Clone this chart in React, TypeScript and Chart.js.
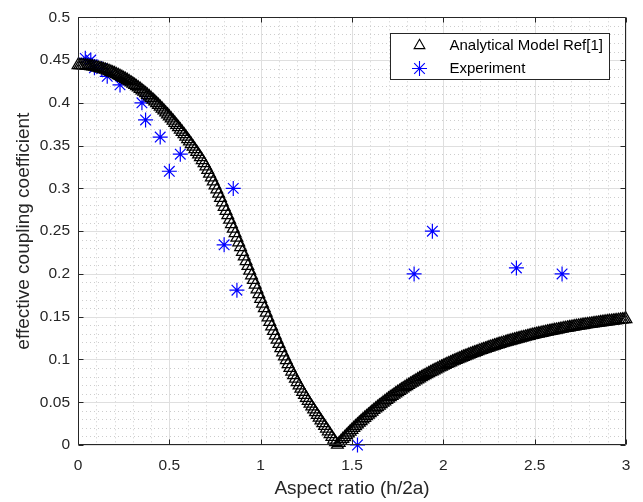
import React, { useEffect, useRef } from 'react';
import { Chart, registerables } from 'chart.js';
import { drawPoint } from 'chart.js/helpers';

Chart.register(...registerables);

const xTitle = 'Aspect ratio (h/2a)';
const yTitle = 'effective coupling coefficient';
const legendLabels = ['Analytical Model Ref[1]', 'Experiment'];

const xTickValues = [0, 0.5, 1, 1.5, 2, 2.5, 3];
const yTickValues = [0, 0.05, 0.1, 0.15, 0.2, 0.25, 0.3, 0.35, 0.4, 0.45, 0.5];

const modelX = [
  0, 0.01, 0.02, 0.03, 0.04, 0.05, 0.06, 0.07, 0.08, 0.09,
  0.1, 0.11, 0.12, 0.13, 0.14, 0.15, 0.16, 0.17, 0.18, 0.19,
  0.2, 0.21, 0.22, 0.23, 0.24, 0.25, 0.26, 0.27, 0.28, 0.29,
  0.3, 0.31, 0.32, 0.33, 0.34, 0.35, 0.36, 0.37, 0.38, 0.39,
  0.4, 0.41, 0.42, 0.43, 0.44, 0.45, 0.46, 0.47, 0.48, 0.49,
  0.5, 0.51, 0.52, 0.53, 0.54, 0.55, 0.56, 0.57, 0.58, 0.59,
  0.6, 0.61, 0.62, 0.63, 0.64, 0.65, 0.66, 0.67, 0.68, 0.69,
  0.7, 0.71, 0.72, 0.73, 0.74, 0.75, 0.76, 0.77, 0.78, 0.79,
  0.8, 0.81, 0.82, 0.83, 0.84, 0.85, 0.86, 0.87, 0.88, 0.89,
  0.9, 0.91, 0.92, 0.93, 0.94, 0.95, 0.96, 0.97, 0.98, 0.99,
  1.0, 1.01, 1.02, 1.03, 1.04, 1.05, 1.06, 1.07, 1.08, 1.09,
  1.1, 1.11, 1.12, 1.13, 1.14, 1.15, 1.16, 1.17, 1.18, 1.19,
  1.2, 1.21, 1.22, 1.23, 1.24, 1.25, 1.26, 1.27, 1.28, 1.29,
  1.3, 1.31, 1.32, 1.33, 1.34, 1.35, 1.36, 1.37, 1.38, 1.39,
  1.4, 1.41, 1.42, 1.43, 1.44, 1.45, 1.46, 1.47, 1.48, 1.49,
  1.5, 1.51, 1.52, 1.53, 1.54, 1.55, 1.56, 1.57, 1.58, 1.59,
  1.6, 1.61, 1.62, 1.63, 1.64, 1.65, 1.66, 1.67, 1.68, 1.69,
  1.7, 1.71, 1.72, 1.73, 1.74, 1.75, 1.76, 1.77, 1.78, 1.79,
  1.8, 1.81, 1.82, 1.83, 1.84, 1.85, 1.86, 1.87, 1.88, 1.89,
  1.9, 1.91, 1.92, 1.93, 1.94, 1.95, 1.96, 1.97, 1.98, 1.99,
  2.0, 2.01, 2.02, 2.03, 2.04, 2.05, 2.06, 2.07, 2.08, 2.09,
  2.1, 2.11, 2.12, 2.13, 2.14, 2.15, 2.16, 2.17, 2.18, 2.19,
  2.2, 2.21, 2.22, 2.23, 2.24, 2.25, 2.26, 2.27, 2.28, 2.29,
  2.3, 2.31, 2.32, 2.33, 2.34, 2.35, 2.36, 2.37, 2.38, 2.39,
  2.4, 2.41, 2.42, 2.43, 2.44, 2.45, 2.46, 2.47, 2.48, 2.49,
  2.5, 2.51, 2.52, 2.53, 2.54, 2.55, 2.56, 2.57, 2.58, 2.59,
  2.6, 2.61, 2.62, 2.63, 2.64, 2.65, 2.66, 2.67, 2.68, 2.69,
  2.7, 2.71, 2.72, 2.73, 2.74, 2.75, 2.76, 2.77, 2.78, 2.79,
  2.8, 2.81, 2.82, 2.83, 2.84, 2.85, 2.86, 2.87, 2.88, 2.89,
  2.9, 2.91, 2.92, 2.93, 2.94, 2.95, 2.96, 2.97, 2.98, 2.99,
  3.0,
];

const modelY = [
  0.4440, 0.4440, 0.4439, 0.4438, 0.4436, 0.4434, 0.4431, 0.4428, 0.4425, 0.4421,
  0.4416, 0.4411, 0.4405, 0.4399, 0.4393, 0.4386, 0.4379, 0.4371, 0.4362, 0.4353,
  0.4344, 0.4334, 0.4324, 0.4313, 0.4302, 0.4290, 0.4278, 0.4265, 0.4252, 0.4238,
  0.4224, 0.4209, 0.4194, 0.4179, 0.4163, 0.4146, 0.4129, 0.4111, 0.4093, 0.4075,
  0.4056, 0.4037, 0.4017, 0.3996, 0.3975, 0.3954, 0.3932, 0.3910, 0.3887, 0.3864,
  0.3840, 0.3816, 0.3791, 0.3766, 0.3740, 0.3714, 0.3687, 0.3660, 0.3633, 0.3605,
  0.3576, 0.3547, 0.3517, 0.3487, 0.3457, 0.3426, 0.3395, 0.3363, 0.3330, 0.3294,
  0.3256, 0.3215, 0.3172, 0.3127, 0.3081, 0.3034, 0.2986, 0.2937, 0.2887, 0.2836,
  0.2784, 0.2735, 0.2685, 0.2634, 0.2582, 0.2529, 0.2476, 0.2422, 0.2368, 0.2313,
  0.2258, 0.2203, 0.2148, 0.2093, 0.2038, 0.1983, 0.1928, 0.1873, 0.1818, 0.1763,
  0.1708, 0.1653, 0.1599, 0.1545, 0.1491, 0.1438, 0.1385, 0.1333, 0.1281, 0.1230,
  0.1180, 0.1131, 0.1083, 0.1036, 0.0990, 0.0945, 0.0901, 0.0858, 0.0816, 0.0775,
  0.0735, 0.0696, 0.0658, 0.0621, 0.0585, 0.0550, 0.0516, 0.0482, 0.0449, 0.0416,
  0.0383, 0.0351, 0.0319, 0.0287, 0.0255, 0.0223, 0.0191, 0.0159, 0.0127, 0.0095,
  0.0063, 0.0031, 0.0002, 0.0023, 0.0046, 0.0069, 0.0091, 0.0113, 0.0135, 0.0156,
  0.0177, 0.0198, 0.0219, 0.0239, 0.0259, 0.0279, 0.0298, 0.0317, 0.0336, 0.0354,
  0.0372, 0.0390, 0.0408, 0.0426, 0.0443, 0.0460, 0.0477, 0.0494, 0.0510, 0.0526,
  0.0542, 0.0558, 0.0573, 0.0588, 0.0603, 0.0618, 0.0632, 0.0647, 0.0661, 0.0675,
  0.0688, 0.0702, 0.0715, 0.0728, 0.0741, 0.0754, 0.0767, 0.0779, 0.0791, 0.0803,
  0.0815, 0.0827, 0.0839, 0.0850, 0.0861, 0.0872, 0.0883, 0.0894, 0.0905, 0.0915,
  0.0926, 0.0936, 0.0946, 0.0956, 0.0965, 0.0975, 0.0984, 0.0994, 0.1003, 0.1012,
  0.1021, 0.1030, 0.1039, 0.1047, 0.1056, 0.1064, 0.1072, 0.1080, 0.1088, 0.1096,
  0.1104, 0.1111, 0.1119, 0.1126, 0.1134, 0.1141, 0.1148, 0.1155, 0.1162, 0.1169,
  0.1176, 0.1182, 0.1189, 0.1195, 0.1202, 0.1208, 0.1214, 0.1220, 0.1226, 0.1232,
  0.1238, 0.1243, 0.1249, 0.1255, 0.1260, 0.1265, 0.1271, 0.1276, 0.1282, 0.1287,
  0.1292, 0.1297, 0.1302, 0.1306, 0.1311, 0.1316, 0.1321, 0.1325, 0.1330, 0.1334,
  0.1339, 0.1343, 0.1347, 0.1351, 0.1355, 0.1359, 0.1364, 0.1367, 0.1371, 0.1375,
  0.1379, 0.1383, 0.1387, 0.1390, 0.1394, 0.1397, 0.1401, 0.1404, 0.1408, 0.1411,
  0.1414, 0.1417, 0.1421, 0.1424, 0.1427, 0.1430, 0.1433, 0.1436, 0.1439, 0.1442,
  0.1445, 0.1448, 0.1450, 0.1453, 0.1456, 0.1458, 0.1461, 0.1464, 0.1466, 0.1469,
  0.1471,
];

const expX = [0.04, 0.07, 0.09, 0.13, 0.16, 0.23, 0.35, 0.37, 0.45, 0.5, 0.56, 0.8, 0.85, 0.87, 1.53, 1.84, 1.94, 2.4, 2.65];
const expY = [0.452, 0.45, 0.441, 0.44, 0.431, 0.421, 0.4, 0.38, 0.36, 0.32, 0.34, 0.234, 0.3, 0.181, 0.0, 0.2, 0.25, 0.207, 0.2];

const FONT = "'Liberation Sans', Arial, Helvetica, sans-serif";
const AXIS_COLOR = '#262626';

const fmt = (v: number) => String(Math.round(v * 100) / 100);

const matlabAxesPlugin = {
  id: 'matlabAxes',
  beforeDatasetsDraw(chart: any) {
    const { ctx, chartArea: a, scales } = chart;
    const xs = scales.x;
    const ys = scales.y;
    ctx.save();
    ctx.strokeStyle = '#cdcdcd';
    ctx.lineWidth = 1;
    ctx.setLineDash([1, 3]);
    ctx.beginPath();
    for (let i = 1; i < 30; i++) {
      if (i % 5 === 0) continue;
      const px = Math.round(xs.getPixelForValue(i / 10)) + 0.5;
      ctx.moveTo(px, a.top);
      ctx.lineTo(px, a.bottom);
    }
    for (let i = 1; i < 50; i++) {
      if (i % 5 === 0) continue;
      const py = Math.round(ys.getPixelForValue(i / 100)) + 0.5;
      ctx.moveTo(a.left, py);
      ctx.lineTo(a.right, py);
    }
    ctx.stroke();
    ctx.setLineDash([]);
    ctx.strokeStyle = '#dfdfdf';
    ctx.beginPath();
    xTickValues.forEach((v) => {
      const px = Math.round(xs.getPixelForValue(v)) + 0.5;
      ctx.moveTo(px, a.top);
      ctx.lineTo(px, a.bottom);
    });
    yTickValues.forEach((v) => {
      const py = Math.round(ys.getPixelForValue(v)) + 0.5;
      ctx.moveTo(a.left, py);
      ctx.lineTo(a.right, py);
    });
    ctx.stroke();
    ctx.restore();
  },
  afterDatasetsDraw(chart: any) {
    const { ctx, chartArea: a, scales } = chart;
    const xs = scales.x;
    const ys = scales.y;
    const L = Math.round(a.left) + 0.5;
    const R = Math.round(a.right) - 0.5;
    const T = Math.round(a.top) + 0.5;
    const B = Math.round(a.bottom) - 0.5;
    ctx.save();
    ctx.strokeStyle = AXIS_COLOR;
    ctx.lineWidth = 1;
    ctx.beginPath();
    ctx.rect(L, T, R - L, B - T);
    const tl = 5;
    xTickValues.forEach((v) => {
      const px = Math.round(xs.getPixelForValue(v)) + 0.5;
      ctx.moveTo(px, B);
      ctx.lineTo(px, B - tl);
      ctx.moveTo(px, T);
      ctx.lineTo(px, T + tl);
    });
    yTickValues.forEach((v) => {
      const py = Math.round(ys.getPixelForValue(v)) + 0.5;
      ctx.moveTo(L, py);
      ctx.lineTo(L + tl, py);
      ctx.moveTo(R, py);
      ctx.lineTo(R - tl, py);
    });
    ctx.stroke();
    ctx.restore();
  },
  afterDraw(chart: any) {
    const { ctx, chartArea: a } = chart;
    const bx = Math.round(a.right - 236) + 0.5;
    const by = Math.round(a.top + 16) + 0.5;
    const bw = 219;
    const bh = 46;
    ctx.save();
    ctx.fillStyle = '#ffffff';
    ctx.fillRect(bx, by, bw, bh);
    ctx.strokeStyle = AXIS_COLOR;
    ctx.lineWidth = 1;
    ctx.strokeRect(bx, by, bw, bh);
    const ds = chart.data.datasets;
    const rows = [by + 12, by + 35];
    const legendRadius = [6.2, 7.5];
    ds.forEach((d: any, i: number) => {
      ctx.save();
      ctx.strokeStyle = d.borderColor;
      ctx.fillStyle = 'rgba(0,0,0,0)';
      ctx.lineWidth = 1.1;
      drawPoint(ctx, { pointStyle: d.pointStyle, radius: legendRadius[i], rotation: 0, borderWidth: 1.1 }, bx + 29, rows[i]);
      ctx.restore();
      ctx.fillStyle = '#000000';
      ctx.font = `15px ${FONT}`;
      ctx.textBaseline = 'middle';
      ctx.textAlign = 'left';
      ctx.fillText(legendLabels[i], bx + 59, rows[i]);
    });
    ctx.restore();
  },
};

export default function App() {
  const ref = useRef<HTMLCanvasElement | null>(null);
  useEffect(() => {
    if (!ref.current) return;
    const chart = new Chart(ref.current, {
      type: 'scatter',
      data: {
        datasets: [
          {
            label: legendLabels[0],
            data: modelX.map((x, i) => ({ x, y: modelY[i] })),
            pointStyle: 'triangle',
            pointRadius: 6.8,
            borderColor: '#000000',
            backgroundColor: 'rgba(0,0,0,0)',
            borderWidth: 1.25,
            showLine: false,
            clip: false,
          } as any,
          {
            label: legendLabels[1],
            data: expX.map((x, i) => ({ x, y: expY[i] })),
            pointStyle: 'star',
            pointRadius: 7.5,
            borderColor: '#0000ff',
            backgroundColor: '#0000ff',
            borderWidth: 1.2,
            showLine: false,
            clip: false,
          } as any,
        ],
      },
      options: {
        animation: false,
        responsive: false,
        devicePixelRatio: 1,
        events: [],
        layout: { padding: { top: 14, right: 17, left: 0, bottom: 0 } },
        plugins: { legend: { display: false }, tooltip: { enabled: false } },
        scales: {
          x: {
            type: 'linear',
            min: 0,
            max: 3,
            grid: { display: false, drawTicks: false },
            border: { display: false },
            afterBuildTicks: (s: any) => { s.ticks = xTickValues.map((v) => ({ value: v })); },
            afterFit: (s: any) => { s.height = 57; },
            ticks: { autoSkip: false, maxRotation: 0, padding: 11, color: AXIS_COLOR, font: { family: FONT, size: 15.5 }, callback: (v: any) => fmt(Number(v)) },
            title: { display: true, text: xTitle, color: AXIS_COLOR, font: { family: FONT, size: 19 }, padding: { top: 0, bottom: 2 } },
          },
          y: {
            type: 'linear',
            min: 0,
            max: 0.5,
            grid: { display: false, drawTicks: false },
            border: { display: false },
            afterBuildTicks: (s: any) => { s.ticks = yTickValues.map((v) => ({ value: v })); },
            afterFit: (s: any) => { s.width = 78; },
            ticks: { autoSkip: false, padding: 8, color: AXIS_COLOR, font: { family: FONT, size: 15.5 }, callback: (v: any) => fmt(Number(v)) },
            title: { display: true, text: yTitle, color: AXIS_COLOR, font: { family: FONT, size: 19 }, padding: { top: 12, bottom: 0 } },
          },
        },
      },
      plugins: [matlabAxesPlugin],
    });
    return () => chart.destroy();
  }, []);
  return (
    <div style={{ position: 'fixed', left: 0, top: 0, width: 643, height: 502, background: '#ffffff' }}>
      <canvas ref={ref} width={643} height={502} style={{ width: 643, height: 502, display: 'block' }} />
    </div>
  );
}
